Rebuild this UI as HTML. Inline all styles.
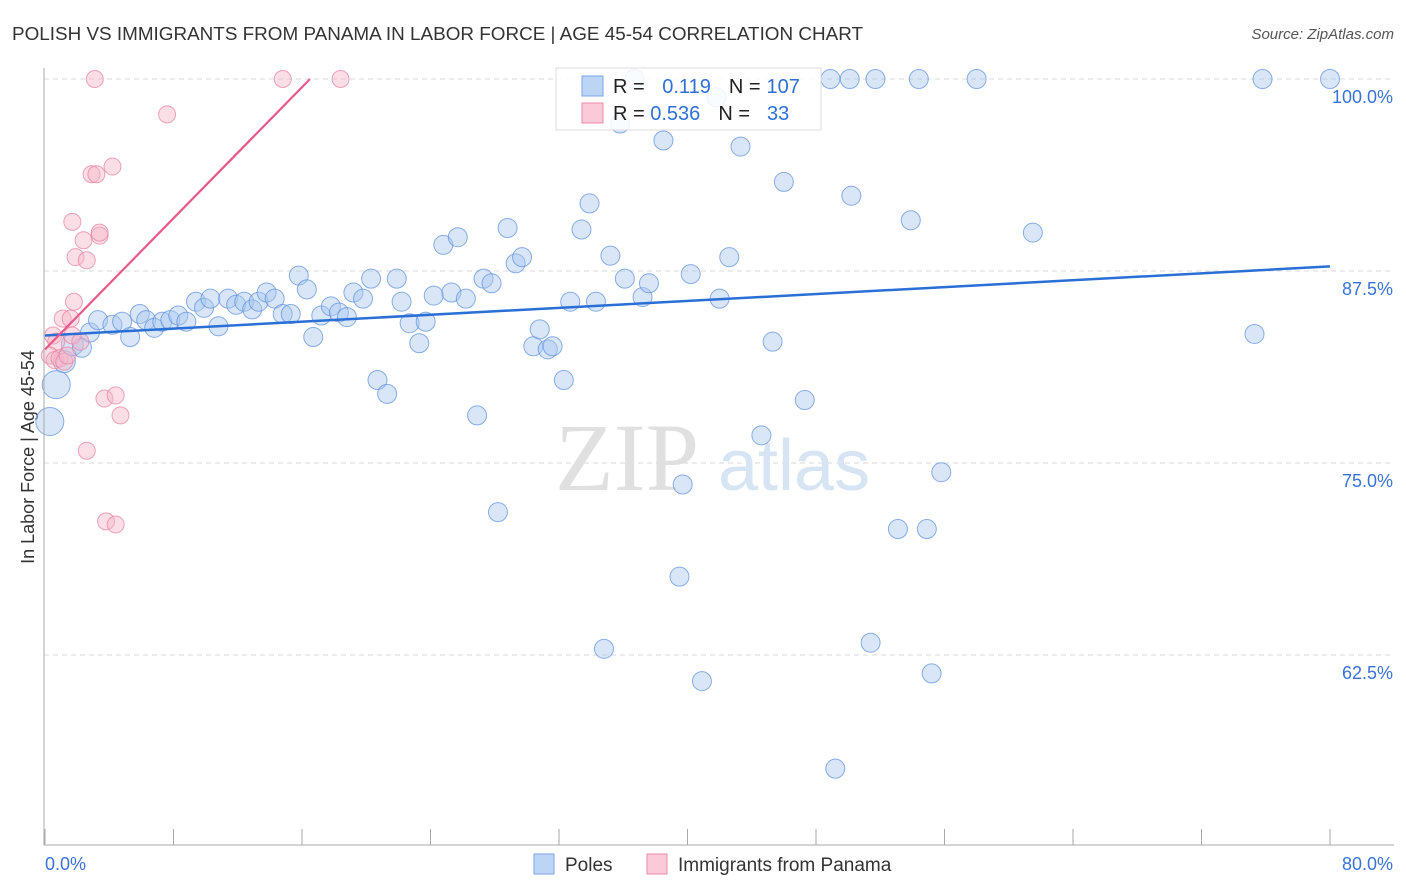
<!DOCTYPE html>
<html><head><meta charset="utf-8"><style>
body{margin:0;background:#fff;font-family:"Liberation Sans",sans-serif;}
#wrap{position:relative;width:1406px;height:892px;overflow:hidden;}
</style></head><body>
<div id="wrap">
<svg id="svg" width="1406" height="892" xmlns="http://www.w3.org/2000/svg">
<text x="12" y="40" font-size="18" fill="#333" textLength="851" lengthAdjust="spacingAndGlyphs">POLISH VS IMMIGRANTS FROM PANAMA IN LABOR FORCE | AGE 45-54 CORRELATION CHART</text>
<text x="1394" y="39" font-size="15" fill="#555" font-style="italic" text-anchor="end">Source: ZipAtlas.com</text>
<text x="34" y="457" font-size="18" fill="#333" text-anchor="middle" transform="rotate(-90 34 457)">In Labor Force | Age 45-54</text>
<g id="grid"></g>
<g><text x="555" y="490" font-size="96" fill="#e0e0e0" font-family="Liberation Serif,serif">ZIP</text><text x="718" y="490" font-size="72" fill="#d6e4f4">atlas</text></g>
<g id="pts"></g>
<g id="axes"></g>
<g>
<rect x="556" y="68" width="265" height="62" fill="#fff" fill-opacity="0.85" stroke="#ddd"/>
<rect x="582" y="76" width="21" height="20" fill="#bcd5f5" stroke="#7aa6e6"/>
<rect x="582" y="103" width="21" height="20" fill="#fbcad8" stroke="#ee8aaa"/>
<text x="613" y="93" font-size="20" fill="#222">R = <tspan fill="#2f6fd6" dx="12">0.119</tspan><tspan dx="18">N =</tspan><tspan fill="#2f6fd6" dx="6">107</tspan></text>
<text x="613" y="120" font-size="20" fill="#222">R = <tspan fill="#2f6fd6">0.536</tspan><tspan dx="18">N =</tspan><tspan fill="#2f6fd6" dx="17">33</tspan></text>
</g>
<g>
<rect x="534" y="854" width="20" height="20" fill="#bcd5f5" stroke="#7aa6e6"/>
<text x="565" y="871" font-size="19" fill="#333">Poles</text>
<rect x="647" y="854" width="20" height="20" fill="#fbcad8" stroke="#ee8aaa"/>
<text x="678" y="871" font-size="19" fill="#333">Immigrants from Panama</text>
</g>
</svg>
</div>
<script>
const blueX=[0.3,0.7,1.2,1.7,2.3,2.8,3.3,4.2,4.8,5.3,5.9,6.3,6.8,7.3,7.8,8.3,8.8,9.4,9.9,10.3,10.8,11.4,11.9,12.4,12.9,13.3,13.8,14.3,14.8,15.3,15.8,16.3,16.7,17.2,17.8,18.3,18.8,19.2,19.8,20.3,20.7,21.3,21.9,22.2,22.7,23.3,23.7,24.2,24.8,25.3,25.7,26.2,26.9,27.3,27.8,28.2,28.8,29.3,29.7,30.4,30.8,31.3,31.6,32.3,32.7,33.4,33.9,34.3,34.8,35.2,35.8,36.1,36.7,37.2,37.6,38.5,39.5,39.7,40.2,40.9,41.8,42.0,42.6,43.3,44.6,45.3,46.0,47.3,48.9,49.2,50.1,50.2,51.4,51.7,53.1,53.9,54.4,54.9,55.2,55.8,58.0,61.5,75.3,75.8,80.0];
const blueY=[77.7,80.1,81.6,82.7,82.5,83.5,84.3,84.0,84.2,83.2,84.7,84.3,83.8,84.2,84.3,84.6,84.2,85.5,85.1,85.7,83.9,85.7,85.3,85.5,85.0,85.5,86.1,85.7,84.7,84.7,87.2,86.3,83.2,84.6,85.2,84.8,84.5,86.1,85.7,87.0,80.4,79.5,87.0,85.5,84.1,82.8,84.2,85.9,89.2,86.1,89.7,85.7,78.1,87.0,86.7,71.8,90.3,88.0,88.4,82.6,83.7,82.4,82.6,80.4,85.5,90.2,91.9,85.5,62.9,88.5,97.1,87.0,100,85.8,86.7,96.0,67.6,73.6,87.3,60.8,98.8,85.7,88.4,95.6,76.8,82.9,93.3,79.1,100,55.1,100,92.4,63.3,100,70.7,90.8,100,70.7,61.3,74.4,100,90.0,83.4,100,100];
const pinkX=[0.5,0.7,0.3,0.6,0.9,1.2,1.4,1.1,1.6,1.7,1.8,1.9,2.2,1.7,2.4,2.6,3.1,2.9,3.2,3.4,3.4,3.7,3.8,4.2,4.4,4.4,4.7,2.6,7.6,14.8,18.4];
const pinkY=[83.3,82.9,82.0,81.7,81.8,81.6,82.0,84.4,84.4,83.3,85.5,88.4,82.9,90.7,89.5,88.2,100,93.8,93.8,89.8,90.0,79.2,71.2,94.3,79.4,71.0,78.1,75.8,97.7,100,100];
const blueTrend=[[0,83.3],[80,87.8]];
const pinkTrend=[[0,82.4],[16.5,100]];
const yTicks=[100,87.5,75,62.5];
const xTickVals=[0,8,16,24,32,40,48,56,64,72,80];
const NS='http://www.w3.org/2000/svg';
function sx(v){return 45+v*(1285/80);}
function sy(v){return 79+(100-v)*15.36;}
function mk(tag,attrs,parent){const e=document.createElementNS(NS,tag);for(const k in attrs)e.setAttribute(k,attrs[k]);parent.appendChild(e);return e;}
const grid=document.getElementById('grid'),pts=document.getElementById('pts'),axes=document.getElementById('axes');
yTicks.forEach(t=>{
  const l=mk('line',{x1:44,x2:1394,y1:sy(t),y2:sy(t),stroke:'#d8d8d8','stroke-dasharray':'5,4'},grid);
  
  
  const tx=mk('text',{x:1393,y:sy(t)+24,'font-size':18,fill:'#3a72d8','text-anchor':'end'},axes);
  tx.textContent=t.toFixed(1)+'%';
  
  
});
const ax1=mk('line',{x1:44,x2:44,y1:68,y2:845,stroke:'#aaa'},axes);


const ax2=mk('line',{x1:44,x2:1394,y1:845,y2:845,stroke:'#aaa'},axes);


xTickVals.forEach(t=>{
  const l=mk('line',{x1:sx(t),x2:sx(t),y1:829,y2:845,stroke:'#aaa'},axes);
  
  
});
[[0,'start',45],[80,'end',1393]].forEach(([v,a,x])=>{
  const tx=mk('text',{x:x,y:870,'font-size':18,fill:'#3a72d8','text-anchor':a},axes);
  tx.textContent=v.toFixed(1)+'%';
  
  
});
blueX.forEach((x,i)=>{
  const r=i<2?14:(i<4?11:9.5);
  const c=mk('circle',{cx:sx(x),cy:sy(blueY[i]),r:r,fill:'#a9c8f0','fill-opacity':0.45,stroke:'#5b8fdc','stroke-opacity':0.7},pts);
  
  
});
pinkX.forEach((x,i)=>{
  const c=mk('circle',{cx:sx(x),cy:sy(pinkY[i]),r:8.5,fill:'#f7b5c8','fill-opacity':0.45,stroke:'#e77fa0','stroke-opacity':0.7},pts);
  
  
});
const bt=mk('line',{x1:sx(blueTrend[0][0]),y1:sy(blueTrend[0][1]),x2:sx(blueTrend[1][0]),y2:sy(blueTrend[1][1]),stroke:'#2a6fd6','stroke-width':2.5},pts);


const pt=mk('line',{x1:sx(pinkTrend[0][0]),y1:sy(pinkTrend[0][1]),x2:sx(pinkTrend[1][0]),y2:sy(pinkTrend[1][1]),stroke:'#e8588a','stroke-width':2.2},pts);


</script>
</body></html>
